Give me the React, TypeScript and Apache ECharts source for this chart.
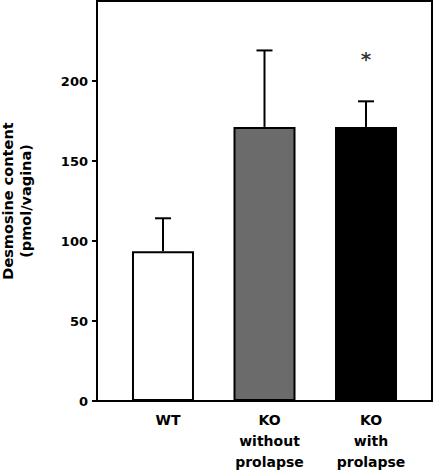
import React, { useEffect, useRef } from "react";
import * as echarts from "echarts";

const categories = ["WT", "KO\nwithout\nprolapse", "KO\nwith\nprolapse"];
const positions = [1, 2, 3];
const means = [93.6, 171.3, 171.3];
const upperErrors = [114.2, 219.1, 187.3];
const barColors = ["#ffffff", "#6b6b6b", "#000000"];
const yTicks = [0, 50, 100, 150, 200];
const significance = [{ pos: 3, value: 214, text: "*" }];

export default function App() {
  const ref = useRef<HTMLDivElement>(null);
  useEffect(() => {
    if (!ref.current) return;
    const chart = echarts.init(ref.current, undefined, { renderer: "svg" });
    const font = "DejaVu Sans, Arial, sans-serif";
    chart.setOption({
      animation: false,
      grid: {
        left: 97,
        right: 1,
        top: 1,
        bottom: 69,
        show: true,
        borderColor: "#000",
        borderWidth: 2,
        containLabel: false,
        outerBoundsMode: "none",
      },
      xAxis: {
        type: "value",
        min: 0.35,
        max: 3.65,
        splitLine: { show: false },
        axisLine: { show: true, lineStyle: { color: "#000", width: 2 } },
        axisTick: { show: false },
        axisLabel: {
          customValues: positions,
          formatter: (v: number) => categories[positions.indexOf(Math.round(v))] ?? "",
          color: "#000",
          fontFamily: font,
          fontWeight: "bold",
          fontSize: 14,
          lineHeight: 21,
          margin: 8,
          padding: [0, 0, 0, 10],
        },
      },
      yAxis: {
        type: "value",
        min: 0,
        max: 250,
        interval: 50,
        splitLine: { show: false },
        axisLine: { show: true, lineStyle: { color: "#000", width: 2 } },
        axisTick: {
          show: true,
          customValues: yTicks,
          length: 5,
          lineStyle: { color: "#000", width: 2 },
        },
        axisLabel: {
          customValues: yTicks,
          color: "#000",
          fontFamily: font,
          fontWeight: "bold",
          fontSize: 13,
          margin: 9,
        },
        name: "Desmosine content\n(pmol/vagina)",
        nameLocation: "middle",
        nameRotate: 90,
        nameGap: 62,
        nameTextStyle: {
          color: "#000",
          fontFamily: font,
          fontWeight: "bold",
          fontSize: 14.5,
          lineHeight: 18,
        },
      },
      series: [
        {
          type: "bar",
          barWidth: 62,
          data: positions.map((p, i) => ({
            value: [p, means[i]],
            itemStyle: { color: barColors[i], borderColor: "#000", borderWidth: 2 },
          })),
          z: 3,
        },
        {
          type: "custom",
          z: 2,
          data: positions.map((p, i) => [p, means[i], upperErrors[i]]),
          renderItem: (params: any, api: any) => {
            const x = api.value(0);
            const base = api.coord([x, api.value(1)]);
            const top = api.coord([x, api.value(2)]);
            const half = 8;
            return {
              type: "group",
              children: [
                {
                  type: "line",
                  shape: { x1: base[0], y1: base[1], x2: top[0], y2: top[1] },
                  style: { stroke: "#000", lineWidth: 2 },
                },
                {
                  type: "line",
                  shape: { x1: top[0] - half, y1: top[1], x2: top[0] + half, y2: top[1] },
                  style: { stroke: "#000", lineWidth: 2 },
                },
              ],
            };
          },
        },
        {
          type: "scatter",
          symbolSize: 0,
          data: significance.map((s) => ({
            value: [s.pos, s.value],
            label: {
              show: true,
              formatter: s.text,
              position: "inside",
              color: "#000",
              fontFamily: font,
              fontWeight: "bold",
              fontSize: 20,
            },
          })),
        },
      ],
    });
    return () => chart.dispose();
  }, []);
  return <div ref={ref} style={{ width: 433, height: 470, position: "absolute", left: 0, top: 0 }} />;
}
